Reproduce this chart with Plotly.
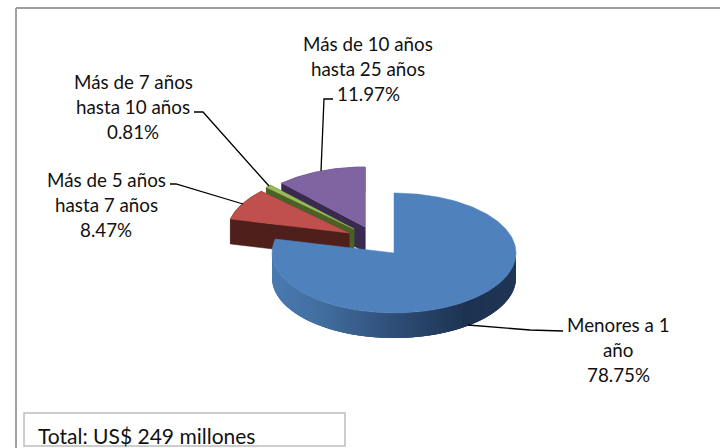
import math
import plotly.graph_objects as go

categories = ["Menores a 1 año", "Más de 5 años hasta 7 años", "Más de 7 años hasta 10 años", "Más de 10 años hasta 25 años"]
values = [78.75, 8.47, 0.81, 11.97]
label_lines = [["Menores a 1", "año", "78.75%"],
               ["Más de 5 años", "hasta 7 años", "8.47%"],
               ["Más de 7 años", "hasta 10 años", "0.81%"],
               ["Más de 10 años", "hasta 25 años", "11.97%"]]
total_text = "Total: US$ 249 millones"

top_colors = ["#4f81bd", "#c0504d", "#9bbb59", "#8064a2"]
side_colors = [None, "#4f1f1c", "#4a6125", "#3a2a4f"]
centers = [(394, 253), (349, 233), (354, 229), (365, 227)]
label_pos = [(618, 324), (106, 179), (133, 81), (368, 43)]
leaders = [[(468, 325), (530, 330), (563, 331)],
           [(170, 184), (176, 184), (243, 204)],
           [(194, 112), (203, 112), (269, 186)],
           [(333, 99), (324, 99), (321, 171)]]
RX, RY, DEPTH = 122, 60, 25
FONT = "Lato"

fig = go.Figure()


def poly(xs, ys, color, stroke=0.5):
    fig.add_trace(go.Scatter(x=xs, y=ys, mode="lines", fill="toself", fillcolor=color,
                             line=dict(color=color, width=stroke), hoverinfo="skip", showlegend=False))


def pt(c, deg):
    a = math.radians(deg)
    return c[0] + RX * math.sin(a), c[1] - RY * math.cos(a)


def lerp(c1, c2, t):
    return "#%02x%02x%02x" % tuple(round(a + (b - a) * t) for a, b in zip(c1, c2))


def blue_side(deg):
    # horizontal shading of the rim, lighter on the left and dark on the right
    x = (math.sin(math.radians(deg)) + 1) / 2
    stops = [(0.0, (74, 122, 176)), (0.2, (66, 110, 158)), (0.5, (46, 78, 120)), (0.8, (29, 50, 80)), (1.0, (32, 54, 84))]
    for (p0, c0), (p1, c1) in zip(stops, stops[1:]):
        if x <= p1:
            return lerp(c0, c1, (x - p0) / (p1 - p0))
    return lerp(stops[-1][1], stops[-1][1], 0)


# start and end angles of the slices, clockwise from the top
spans = []
acc = 0.0
for v in values:
    spans.append((acc * 3.6, (acc + v) * 3.6))
    acc += v

# back to front: purple, green, red, blue
for i in [3, 2, 1, 0]:
    c = centers[i]
    a0, a1 = spans[i]
    n = max(4, int(a1 - a0))
    angles = [a0 + (a1 - a0) * k / n for k in range(n + 1)]
    arc = [pt(c, a) for a in angles]
    if side_colors[i]:
        for e in (a0, a1):
            p = pt(c, e)
            poly([c[0], p[0], p[0], c[0], c[0]], [c[1], p[1], p[1] + DEPTH, c[1] + DEPTH, c[1]], side_colors[i])
        poly([p[0] for p in arc] + [p[0] for p in reversed(arc)],
             [p[1] for p in arc] + [p[1] + DEPTH for p in reversed(arc)], side_colors[i])
    else:
        # strips overlap the next one so that no seams show
        step = 2.0
        a = 90.0
        while a < 270.0:
            b = a + step * 3
            m = 6
            rim = [pt(c, a + (b - a) * k / m) for k in range(m + 1)]
            poly([p[0] for p in rim] + [p[0] for p in reversed(rim)],
                 [p[1] for p in rim] + [p[1] + DEPTH for p in reversed(rim)],
                 blue_side(a + step / 2), stroke=0)
            a += step
    poly([c[0]] + [p[0] for p in arc] + [c[0]], [c[1]] + [p[1] for p in arc] + [c[1]], top_colors[i])

# leader lines
for pts in leaders:
    fig.add_trace(go.Scatter(x=[p[0] for p in pts], y=[p[1] for p in pts], mode="lines",
                             line=dict(color="#000000", width=1.3), hoverinfo="skip", showlegend=False))

# frame and total box
shapes = [
    dict(type="line", x0=16, x1=720, y0=8, y1=8, line=dict(color="#a0a0a0", width=2)),
    dict(type="line", x0=16, x1=16, y0=8, y1=448, line=dict(color="#a0a0a0", width=2)),
    dict(type="rect", x0=24, x1=345, y0=413, y1=446, line=dict(color="#bdbdbd", width=1.5), fillcolor="#ffffff"),
]

annotations = []
for lines, (x, y) in zip(label_lines, label_pos):
    for k, line in enumerate(lines):
        annotations.append(dict(x=x, y=y + 25 * k, text=line, showarrow=False, xanchor="center", yanchor="middle",
                                font=dict(family=FONT, size=18.8, color="#111111")))
annotations.append(dict(x=36, y=435, text=total_text, showarrow=False, xanchor="left", yanchor="middle",
                        font=dict(family=FONT, size=21, color="#111111")))

fig.update_layout(
    width=720, height=448, margin=dict(l=0, r=0, t=0, b=0), paper_bgcolor="#ffffff", plot_bgcolor="#ffffff",
    xaxis=dict(range=[0, 720], visible=False, fixedrange=True),
    yaxis=dict(range=[448, 0], visible=False, fixedrange=True),
    shapes=shapes, annotations=annotations, showlegend=False,
)
fig.write_html("out.html", config={"displayModeBar": False},
               post_script="document.body.style.margin='0';")
